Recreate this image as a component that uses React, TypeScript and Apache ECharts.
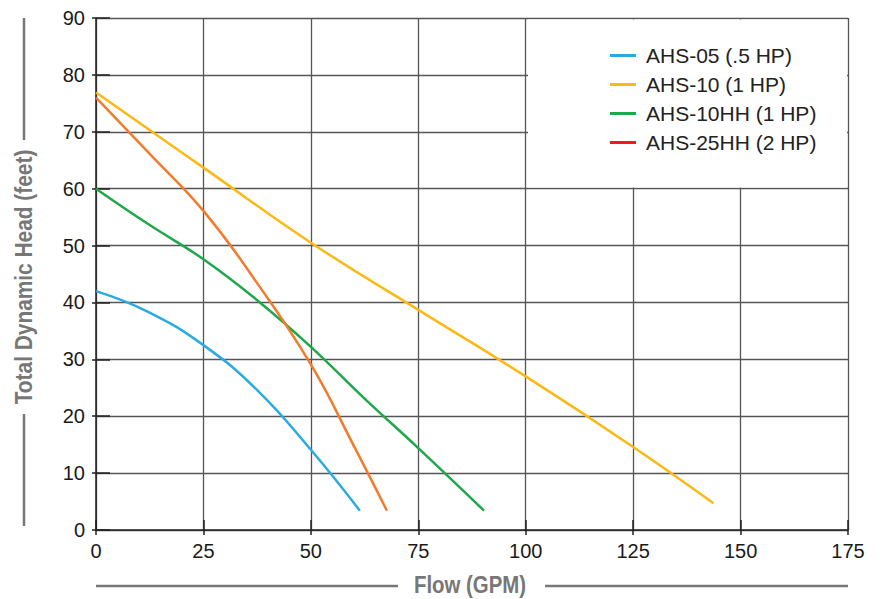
import React, { useEffect, useRef } from "react";
import * as echarts from "echarts";

const seriesNames = ["AHS-05 (.5 HP)", "AHS-10 (1 HP)", "AHS-10HH (1 HP)", "AHS-25HH (2 HP)"];

const ahs05Flow = [0, 12, 25, 37.5, 50, 61.4];
const ahs05Head = [42, 38.4, 32.5, 24.6, 14.1, 3.4];

const ahs10Flow = [0, 25, 50, 75, 100, 125, 143.7];
const ahs10Head = [76.9, 63.7, 50.5, 38.7, 27, 14.6, 4.7];

const ahs10hhFlow = [0, 12.5, 25, 37.5, 50, 62.5, 75, 90.3];
const ahs10hhHead = [60, 53.6, 47.6, 40.4, 32.2, 23.1, 14.4, 3.4];

const ahs25hhFlow = [0, 12.5, 25, 37.5, 50, 60, 67.7];
const ahs25hhHead = [76, 66.1, 56.1, 43.4, 29.1, 14.8, 3.4];

const lineColors = ["#29abe2", "#fdb913", "#1fa84a", "#f07c2c"];
const legendColors = ["#29abe2", "#fdb913", "#1fa84a", "#ed1c24"];

const xTitle = "Flow (GPM)";
const yTitle = "Total Dynamic Head (feet)";

const FONT = "'Liberation Sans', Arial, sans-serif";

function pairs(xs: number[], ys: number[]) {
  return xs.map((x, i) => [x, ys[i]]);
}

export default function App() {
  const ref = useRef<HTMLDivElement>(null);
  useEffect(() => {
    if (!ref.current) return;
    const chart = echarts.init(ref.current, undefined, { renderer: "svg" });
    const data = [
      pairs(ahs05Flow, ahs05Head),
      pairs(ahs10Flow, ahs10Head),
      pairs(ahs10hhFlow, ahs10hhHead),
      pairs(ahs25hhFlow, ahs25hhHead),
    ];
    const baseX = {
      type: "value" as const,
      min: 0,
      max: 175,
      interval: 25,
    };
    const baseY = {
      type: "value" as const,
      min: 0,
      max: 90,
      interval: 10,
    };
    chart.setOption({
      animation: false,
      textStyle: { fontFamily: FONT },
      grid: { left: 96, right: 32, top: 18, bottom: 69, containLabel: false },
      xAxis: [
        {
          ...baseX,
          axisLine: { show: true, lineStyle: { color: "#222", width: 1.5 } },
          axisTick: { show: true, inside: false, length: 5, lineStyle: { color: "#222", width: 1.5 } },
          axisLabel: { color: "#1a1a1a", fontSize: 20, fontFamily: FONT, margin: 11 },
          splitLine: { show: true, lineStyle: { color: "#555", width: 1.3 } },
        },
        {
          ...baseX,
          position: "bottom",
          axisLine: { show: false },
          axisTick: { show: true, inside: true, length: 10, lineStyle: { color: "#222", width: 1.5 } },
          axisLabel: { show: false },
          splitLine: { show: false },
        },
      ],
      yAxis: [
        {
          ...baseY,
          axisLine: { show: true, lineStyle: { color: "#222", width: 1.5 } },
          axisTick: { show: true, inside: false, length: 4, lineStyle: { color: "#222", width: 1.5 } },
          axisLabel: { color: "#1a1a1a", fontSize: 20, fontFamily: FONT, margin: 11 },
          splitLine: { show: true, lineStyle: { color: "#555", width: 1.3 } },
        },
        {
          ...baseY,
          position: "left",
          axisLine: { show: false },
          axisTick: { show: true, inside: true, length: 14, lineStyle: { color: "#222", width: 1.5 } },
          axisLabel: { show: false },
          splitLine: { show: false },
        },
      ],
      legend: {
        orient: "vertical",
        left: 605,
        top: 40,
        itemWidth: 26,
        itemHeight: 3,
        itemGap: 8,
        icon: "rect",
        z: 10,
        textStyle: { fontSize: 21, lineHeight: 21, color: "#222", fontFamily: FONT, padding: [0, 0, 0, 5] },
        data: seriesNames.map((n, i) => ({
          name: n,
          itemStyle: { color: legendColors[i] },
          lineStyle: { color: legendColors[i] },
        })),
      },
      graphic: [
        {
          type: "rect",
          z: 1,
          shape: { x: 528, y: 19.5, width: 319, height: 168 },
          style: { fill: "#ffffff" },
        },
        {
          type: "text",
          x: 24,
          y: 277,
          rotation: Math.PI / 2,
          scaleX: 0.87,
          style: {
            text: yTitle,
            fill: "#777",
            font: `bold 24px ${FONT}`,
            textAlign: "center",
            textVerticalAlign: "middle",
          },
        },
        {
          type: "line",
          shape: { x1: 24, y1: 18, x2: 24, y2: 140 },
          style: { stroke: "#777", lineWidth: 2.5 },
        },
        {
          type: "line",
          shape: { x1: 24, y1: 414, x2: 24, y2: 526 },
          style: { stroke: "#777", lineWidth: 2.5 },
        },
        {
          type: "text",
          x: 470,
          y: 585,
          scaleX: 0.85,
          style: {
            text: xTitle,
            fill: "#777",
            font: `bold 24px ${FONT}`,
            textAlign: "center",
            textVerticalAlign: "middle",
          },
        },
        {
          type: "line",
          shape: { x1: 96, y1: 586, x2: 398, y2: 586 },
          style: { stroke: "#777", lineWidth: 2.5 },
        },
        {
          type: "line",
          shape: { x1: 545, y1: 586, x2: 848, y2: 586 },
          style: { stroke: "#777", lineWidth: 2.5 },
        },
      ],
      series: seriesNames.map((n, i) => ({
        name: n,
        type: "line",
        data: data[i],
        showSymbol: false,
        symbol: "none",
        smooth: 0.45,
        z: 3,
        lineStyle: { color: lineColors[i], width: 2.5 },
        itemStyle: { color: lineColors[i] },
      })),
    });
    return () => chart.dispose();
  }, []);
  return (
    <div
      ref={ref}
      style={{ position: "fixed", left: 0, top: 0, width: 880, height: 599, background: "#fff" }}
    />
  );
}
